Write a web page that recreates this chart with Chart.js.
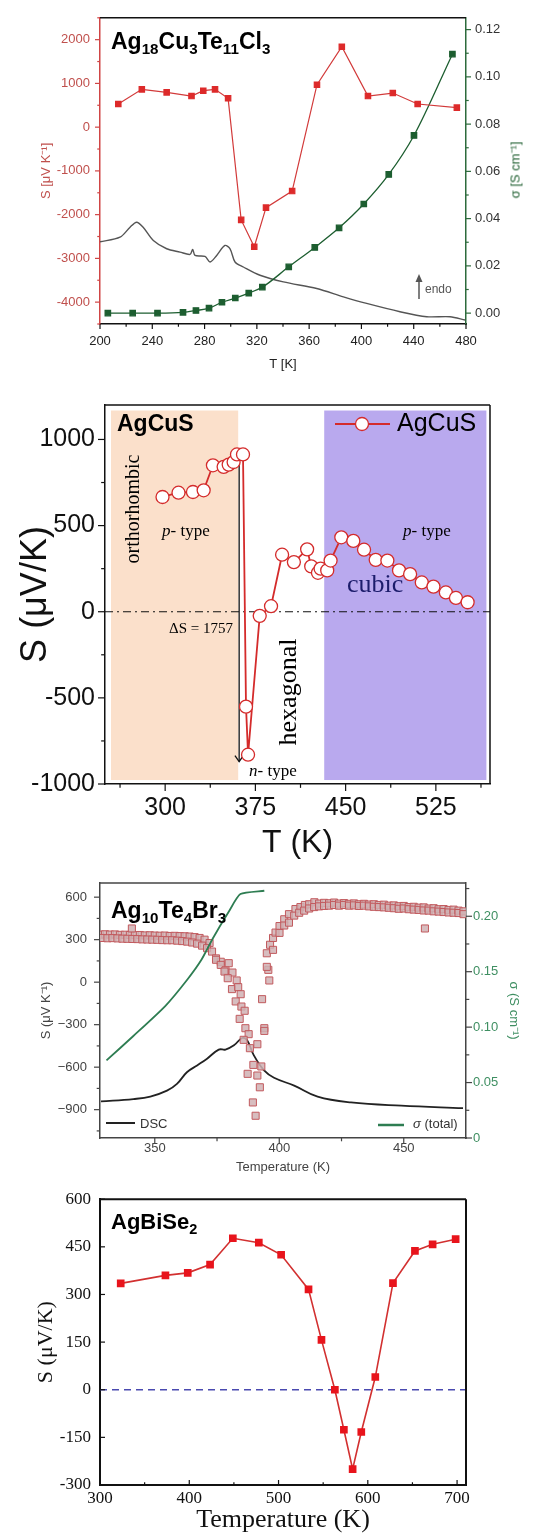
<!DOCTYPE html>
<html>
<head>
<meta charset="utf-8">
<script src="https://cdn.jsdelivr.net/npm/chart.js@4.4.0/dist/chart.umd.min.js"></script>
<style>
  body { margin: 0; background: #fff; }
  #wrap { position: relative; width: 550px; height: 1534px; overflow: hidden; }
  canvas { position: absolute; left: 0; }
  .t { position: absolute; white-space: nowrap; line-height: 1; color: #000; }
  .sans { font-family: 'Liberation Sans', Arial, sans-serif; }
  .serif { font-family: 'Liberation Serif', 'Times New Roman', serif; }
  .rot { transform: translate(-50%, -50%) rotate(-90deg); }
  sub { font-size: 0.66em; vertical-align: -0.32em; line-height: 0; }
</style>
</head>
<body>
<div id="wrap">
  <canvas id="c1" width="550" height="375" style="top:0px"></canvas>
  <canvas id="c2" width="550" height="490" style="top:380px"></canvas>
  <canvas id="c3" width="550" height="320" style="top:860px"></canvas>
  <canvas id="c4" width="550" height="354" style="top:1180px"></canvas>

  <!-- panel 1 -->
  <div class="t sans" style="left:111px;top:30px;font-size:23px;font-weight:bold">Ag<sub>18</sub>Cu<sub>3</sub>Te<sub>11</sub>Cl<sub>3</sub></div>
  <div class="t sans" style="left:425px;top:283px;font-size:12px;color:#555">endo</div>
  <div class="t sans rot" style="left:515px;top:170px;font-size:13px;color:#1f5f30">σ [S cm⁻¹]</div>

  <!-- panel 2 -->
  <div class="t sans" style="left:117px;top:412px;font-size:23px;font-weight:bold">AgCuS</div>
  <div class="t sans" style="left:397px;top:410px;font-size:25px">AgCuS</div>
  <div class="t serif rot" style="left:132px;top:509px;font-size:20px">orthorhombic</div>
  <div class="t serif" style="left:162px;top:522px;font-size:17px"><i>p</i>- type</div>
  <div class="t serif" style="left:403px;top:522px;font-size:17px"><i>p</i>- type</div>
  <div class="t serif" style="left:347px;top:571px;font-size:26px;color:#1c1c6b">cubic</div>
  <div class="t serif rot" style="left:288px;top:692px;font-size:26px">hexagonal</div>
  <div class="t serif" style="left:169px;top:621px;font-size:15px">ΔS = 1757</div>
  <div class="t serif" style="left:249px;top:762px;font-size:17px"><i>n</i>- type</div>

  <!-- panel 3 -->
  <div class="t sans" style="left:111px;top:899px;font-size:23px;font-weight:bold">Ag<sub>10</sub>Te<sub>4</sub>Br<sub>3</sub></div>
  <div class="t sans" style="left:140px;top:1117px;font-size:13px;color:#333">DSC</div>
  <div class="t sans" style="left:413px;top:1117px;font-size:13px;color:#333"><i>σ</i> (total)</div>

  <!-- panel 4 -->
  <div class="t sans" style="left:111px;top:1211px;font-size:22px;font-weight:bold">AgBiSe<sub>2</sub></div>
</div>

<script>
// ---------- panel 1: Ag18Cu3Te11Cl3 ----------
var cuT = [214, 232, 251, 270, 279, 288, 298, 308, 318, 327, 347, 366, 385, 405, 424, 443, 473];
var cuS = [530, 864, 795, 711, 834, 864, 659, -2120, -2735, -1840, -1461, 970, 1840, 711, 780, 530, 447];
var cuSigT = [206, 225, 244, 263.5, 273.4, 283.4, 293.3, 303.5, 313.8, 324.2, 344.4, 364.3, 382.9, 401.8, 420.9, 440.2, 469.6];
var cuSig = [0, 0, 0, 0.0003, 0.0011, 0.0021, 0.0046, 0.0064, 0.0085, 0.011, 0.0196, 0.0278, 0.0361, 0.0462, 0.0587, 0.0752, 0.1096];
var cuDscT = [200, 215.3, 223, 228, 233, 240.8, 251, 261.2, 268.9, 270.9, 272.7, 280.3, 284.2, 289.3, 295.6, 299.5, 303.3, 309.7, 322.4, 340.3, 365.8, 386.2, 404, 429.5, 450, 467.8, 479.3];
var cuDsc = [-2621, -2515, -2288, -2174, -2288, -2591, -2780, -2856, -2909, -2795, -2932, -2955, -3083, -2932, -2705, -2780, -3083, -3197, -3386, -3538, -3689, -3879, -4030, -4220, -4334, -4334, -4409];
var p1Tticks = [200, 240, 280, 320, 360, 400, 440, 480];
var p1Tminor = [220, 260, 300, 340, 380, 420, 460];
var p1Sticks = [-4000, -3000, -2000, -1000, 0, 1000, 2000];
var p1Sminor = [-4500, -3500, -2500, -1500, -500, 500, 1500, 2500];
var p1SigTicks = [0, 0.02, 0.04, 0.06, 0.08, 0.10, 0.12];
var p1SigMinor = [0.01, 0.03, 0.05, 0.07, 0.09, 0.11];

// ---------- panel 2: AgCuS ----------
var agcusT = [297.8, 311.1, 323.1, 332, 339.7, 348.6, 352.8, 356.9, 359.7, 364.7, 367.2, 368.9, 378.6, 388,
  397.2, 407, 418, 421.4, 427, 429.2, 434.7, 437.5, 446.4, 456.4, 465.3, 475, 484.7, 494.4, 503.6, 513.3, 523, 533.3, 541.7, 551.4];
var agcusS = [666, 691, 695, 705, 850, 841, 854, 869, 913, 913, -551, -830, -24, 32,
  331, 288, 362, 263, 226, 250, 240, 297, 432, 411, 360, 301, 297, 240, 218, 170, 146, 112, 80, 55];
var orthoRange = [255, 360.7];
var cubicRange = [432.2, 567];
var bandS = [-977, 1168];
var deltaArrow = [361.5, -870, 915];
var p2Tticks = [300, 375, 450, 525];
var p2Tminor = [262.5, 337.5, 412.5, 487.5, 562.5];
var p2Sticks = [-1000, -500, 0, 500, 1000];
var p2Sminor = [-750, -250, 250, 750];

// ---------- panel 3: Ag10Te4Br3 ----------
var brT = [328, 330, 332, 334, 336, 338, 340, 342, 344, 346, 348, 350, 352, 354, 356, 358, 360, 362, 364, 366, 368, 370, 372,
  329, 331, 333, 335, 337, 339, 341, 343, 345, 347, 349, 351, 353, 355, 357, 359, 361, 363, 365, 367, 369, 371, 373, 340.8,
  374.6, 376.5, 374.6, 376.5, 378.4, 379.7, 378, 381.2, 379.3, 382.9, 381, 383.5, 384.5, 382.5, 384.8, 386.1, 384.1, 386.4,
  387.7, 385.7, 388.2, 391.2, 389.6, 392.8, 387.3, 391.2, 392.2, 389.4, 390.5, 393.1, 394, 394, 395.6, 396,
  395, 395, 396.3, 397.5, 397.5, 398.5, 400.1, 400.1, 402, 402, 403.9, 403.9, 406.5, 406, 408.5, 408, 410.3, 410, 412, 412,
  414.1, 414, 416, 416, 418, 418, 420, 420, 422, 422, 424, 424, 426, 426, 428, 428, 430, 430, 432, 432, 434, 434, 436, 436,
  438, 438, 440, 440, 442, 442, 444, 444, 446, 446, 448, 448, 450, 450, 452, 452, 454, 454, 456, 456, 458.5, 458, 458,
  460, 460, 462, 462, 464, 464, 466, 466, 468, 468, 470, 470, 472, 472, 474, 474];
var brS = [335, 338, 336, 337, 334, 335, 333, 332, 333, 330, 331, 329, 328, 329, 326, 327, 325, 324, 322, 318, 312, 300, 276,
  312, 310, 311, 309, 307, 306, 305, 304, 302, 301, 300, 299, 297, 296, 296, 293, 290, 286, 280, 272, 258, 240, 216, 379,
  168, 144, 158, 122, 84, 134, 75, 68, 28, 12, -49, -35, -85, -136, -172, -202, -259, -325,
  -367, -407, -466, -438, -584, -595, -647, -659, -742, -849, -943, -120, -325, -344, 87, 12,
  108, 204, 264, 228, 312, 350, 396, 348, 444, 400, 480, 420, 516, 470, 530, 490, 545, 505, 550, 520,
  564, 530, 555, 535, 560, 538, 557, 540, 562, 545, 555, 540, 558, 545, 553, 540, 556, 542, 550, 538, 553, 540, 548, 535,
  550, 532, 545, 530, 547, 528, 540, 525, 542, 522, 536, 518, 538, 520, 530, 515, 532, 512, 526, 510, 379, 528, 506,
  520, 505, 522, 500, 515, 498, 516, 495, 510, 492, 512, 490, 505, 488, 500, 480];
var brSigT = [330.6, 341.4, 354.2, 363.1, 368.8, 373.3, 379.7, 384.4, 394];
var brSig = [0.070, 0.092, 0.119, 0.143, 0.161, 0.180, 0.204, 0.220, 0.223];
var brDscT = [328.4, 341.4, 348.2, 354.9, 358.9, 362.9, 367, 371, 375.7, 378.4, 381.8, 385.1, 387.1, 389.8, 393.9, 397.9, 406, 415.4, 428.8, 449, 473.8];
var brDsc = [-842, -825, -808, -766, -718, -636, -588, -540, -476, -476, -446, -394, -410, -517, -623, -675, -730, -808, -849, -872, -889];
var p3Tticks = [350, 400, 450];
var p3Tminor = [375, 425];
var p3Sticks = [-900, -600, -300, 0, 300, 600];
var p3Sminor = [-1050, -750, -450, -150, 150, 450];
var p3SigTicks = [0, 0.05, 0.10, 0.15, 0.20];
var p3SigMinor = [0.025, 0.075, 0.125, 0.175, 0.225];

// ---------- panel 4: AgBiSe2 ----------
var biT = [323.2, 373.3, 398.3, 423.3, 448.8, 477.9, 502.9, 533.6, 548.1, 563.1, 573.2, 583, 592.7, 608.4, 628.2, 652.8, 672.6, 698.4];
var biS = [335, 360, 368, 394, 477, 463, 425, 316, 157, 0, -126, -250, -133, 40, 336, 437, 458, 474];
var p4Tticks = [300, 400, 500, 600, 700];
var p4Tminor = [350, 450, 550, 650];
var p4Sticks = [-300, -150, 0, 150, 300, 450, 600];

var SANS = "'Liberation Sans', Arial, sans-serif";
var SERIF = "'Liberation Serif', 'Times New Roman', serif";

function pts(xs, ys) {
    return xs.map(function (x, i) { return {x: x, y: ys[i]}; });
}

function plain(v) { return String(v); }

function axis(o) {
    return {
        type: 'linear',
        position: o.pos,
        min: o.min,
        max: o.max,
        afterBuildTicks: function (s) {
            s.ticks = o.ticks.map(function (v) { return {value: v}; });
        },
        afterFit: function (s) {
            if (s.isHorizontal()) s.height = o.size; else s.width = o.size;
        },
        grid: {display: false, drawTicks: false},
        border: {display: true, color: o.line, width: o.lineWidth || 1.5},
        ticks: {
            autoSkip: false, maxRotation: 0, padding: o.pad, color: o.color,
            font: o.font, callback: o.fmt || plain
        },
        title: o.title ? {display: true, text: o.title, color: o.titleColor || o.color, font: o.titleFont, padding: o.titlePad}
                       : {display: false}
    };
}

// frame lines that no axis covers, and tick marks drawn from each scale
function frameAndTicks(spec) {
    return {
        id: 'frameAndTicks',
        afterDatasetsDraw: function (chart) {
            var ctx = chart.ctx, a = chart.chartArea;
            ctx.save();
            ctx.lineWidth = spec.width;
            ctx.strokeStyle = spec.color;
            spec.sides.forEach(function (side) {
                ctx.beginPath();
                if (side == 'top') { ctx.moveTo(a.left, a.top); ctx.lineTo(a.right, a.top); }
                if (side == 'right') { ctx.moveTo(a.right, a.top); ctx.lineTo(a.right, a.bottom); }
                ctx.stroke();
            });
            Object.keys(spec.ticks).forEach(function (id) {
                var t = spec.ticks[id], s = chart.scales[id];
                var sign = t.inward ? -1 : 1;
                ctx.strokeStyle = t.color;
                ctx.lineWidth = 1.2;
                [[t.major, t.len], [t.minor || [], t.len * 0.55]].forEach(function (g) {
                    g[0].forEach(function (v) {
                        var p = s.getPixelForValue(v), L = g[1] * sign;
                        ctx.beginPath();
                        if (s.position == 'bottom') { ctx.moveTo(p, a.bottom); ctx.lineTo(p, a.bottom + L); }
                        else if (s.position == 'left') { ctx.moveTo(a.left, p); ctx.lineTo(a.left - L, p); }
                        else { ctx.moveTo(a.right, p); ctx.lineTo(a.right + L, p); }
                        ctx.stroke();
                    });
                });
            });
            ctx.restore();
        }
    };
}

function chevron(ctx, x, y, dir, size) {
    ctx.beginPath();
    ctx.moveTo(x - size * 0.7, y + dir * size);
    ctx.lineTo(x, y);
    ctx.lineTo(x + size * 0.7, y + dir * size);
    ctx.stroke();
}

var base = {
    responsive: false,
    animation: false,
    events: [],
    plugins: {legend: {display: false}, tooltip: {enabled: false}}
};

function opts(extra) {
    return Object.assign({}, base, extra);
}

// ================= panel 1 =================
new Chart(document.getElementById('c1').getContext('2d'), {
    type: 'scatter',
    data: {
        datasets: [{
            data: pts(cuT, cuS), yAxisID: 'yS', showLine: true,
            borderColor: '#d23a3a', borderWidth: 1.2,
            pointStyle: 'rect', pointRadius: 3.8, backgroundColor: '#dd2a2a', pointBorderColor: '#dd2a2a'
        }, {
            data: pts(cuSigT, cuSig), yAxisID: 'ySig', showLine: true, cubicInterpolationMode: 'monotone',
            borderColor: '#1d5e30', borderWidth: 1.3,
            pointStyle: 'rect', pointRadius: 3.8, backgroundColor: '#1d5e30', pointBorderColor: '#1d5e30'
        }, {
            data: pts(cuDscT, cuDsc), yAxisID: 'yS', showLine: true, tension: 0.3,
            borderColor: '#555', borderWidth: 1.4, pointRadius: 0
        }]
    },
    options: opts({
        layout: {padding: {top: 15, right: 0, left: 0, bottom: 0}},
        scales: {
            x: axis({pos: 'bottom', min: 200, max: 480, ticks: p1Tticks, size: 51, pad: 10, color: '#222',
                line: '#111', font: {family: SANS, size: 13},
                title: 'T [K]', titleFont: {family: SANS, size: 13}, titlePad: {top: 0, bottom: 3}}),
            yS: axis({pos: 'left', min: -4500, max: 2500, ticks: p1Sticks, size: 100, pad: 10, color: '#c0504d',
                line: '#d04545', font: {family: SANS, size: 13},
                title: 'S [μV K⁻¹]', titleFont: {family: SANS, size: 13}, titlePad: {top: 39, bottom: 0}}),
            ySig: axis({pos: 'right', min: -0.0046, max: 0.125, ticks: p1SigTicks, size: 84, pad: 9, color: '#333',
                line: '#2d6b3c', font: {family: SANS, size: 13},
                fmt: function (v) { return v.toFixed(2); }})
        }
    }),
    plugins: [frameAndTicks({
        width: 1.5, color: '#111', sides: ['top'],
        ticks: {
            x: {major: p1Tticks, minor: p1Tminor, len: 5, color: '#111'},
            yS: {major: p1Sticks, minor: p1Sminor, len: 5, color: '#d04545'},
            ySig: {major: p1SigTicks, minor: p1SigMinor, len: 5, color: '#2d6b3c'}
        }
    }), {
        id: 'endoArrow',
        afterDraw: function (chart) {
            var ctx = chart.ctx;
            ctx.save();
            ctx.strokeStyle = '#555';
            ctx.fillStyle = '#555';
            ctx.lineWidth = 1.5;
            ctx.beginPath(); ctx.moveTo(419, 299); ctx.lineTo(419, 280); ctx.stroke();
            ctx.beginPath(); ctx.moveTo(419, 274); ctx.lineTo(415.5, 282); ctx.lineTo(422.5, 282); ctx.closePath(); ctx.fill();
            ctx.restore();
        }
    }]
});

// ================= panel 2 =================
new Chart(document.getElementById('c2').getContext('2d'), {
    type: 'scatter',
    data: {
        datasets: [{
            data: pts(agcusT, agcusS), showLine: true,
            borderColor: '#d42b2b', borderWidth: 1.8,
            pointStyle: 'circle', pointRadius: 6.5, pointBorderWidth: 1.3,
            backgroundColor: '#fff', pointBackgroundColor: '#fff', pointBorderColor: '#d42b2b'
        }, {
            data: pts([250, 570], [0, 0]), showLine: true, pointRadius: 0,
            borderColor: '#111', borderWidth: 1.2, borderDash: [8, 4, 2, 4]
        }]
    },
    options: opts({
        layout: {padding: {top: 18, right: 60, left: 0, bottom: 0}},
        scales: {
            x: axis({pos: 'bottom', min: 250, max: 570, ticks: p2Tticks, size: 86, pad: 9, color: '#111',
                line: '#111', font: {family: SANS, size: 25},
                title: 'T (K)', titleFont: {family: SANS, size: 32}, titlePad: {top: 0, bottom: 8}}),
            y: axis({pos: 'left', min: -1000, max: 1200, ticks: p2Sticks, size: 105, pad: 10, color: '#111',
                line: '#111', font: {family: SANS, size: 25},
                title: 'S (μV/K)', titleFont: {family: SANS, size: 36}, titlePad: {top: 14, bottom: 0}})
        }
    }),
    plugins: [{
        id: 'phaseBands',
        beforeDatasetsDraw: function (chart) {
            var ctx = chart.ctx, xs = chart.scales.x, ys = chart.scales.y;
            var yt = ys.getPixelForValue(bandS[1]), yb = ys.getPixelForValue(bandS[0]);
            ctx.save();
            [[orthoRange, '#fbe0cb'], [cubicRange, '#b9a9ee']].forEach(function (b) {
                var x0 = xs.getPixelForValue(b[0][0]), x1 = xs.getPixelForValue(b[0][1]);
                ctx.fillStyle = b[1];
                ctx.fillRect(x0, yt, x1 - x0, yb - yt);
            });
            // delta S arrow
            var ax = xs.getPixelForValue(deltaArrow[0]);
            var y0 = ys.getPixelForValue(deltaArrow[1]), y1 = ys.getPixelForValue(deltaArrow[2]);
            ctx.strokeStyle = '#111';
            ctx.lineWidth = 1.3;
            ctx.beginPath(); ctx.moveTo(ax, y0); ctx.lineTo(ax, y1); ctx.stroke();
            chevron(ctx, ax, y1, 1, 6);
            chevron(ctx, ax, y0, -1, 6);
            ctx.restore();
        }
    }, frameAndTicks({
        width: 1.5, color: '#111', sides: ['top', 'right'],
        ticks: {
            x: {major: p2Tticks, minor: p2Tminor, len: 7, color: '#111'},
            y: {major: p2Sticks, minor: p2Sminor, len: 7, color: '#111'}
        }
    }), {
        id: 'legendMark',
        afterDraw: function (chart) {
            var ctx = chart.ctx;
            ctx.save();
            ctx.strokeStyle = '#d42b2b';
            ctx.lineWidth = 1.8;
            ctx.beginPath(); ctx.moveTo(335, 44); ctx.lineTo(390, 44); ctx.stroke();
            ctx.fillStyle = '#fff';
            ctx.lineWidth = 1.3;
            ctx.beginPath(); ctx.arc(362, 44, 6.5, 0, Math.PI * 2); ctx.fill(); ctx.stroke();
            ctx.restore();
        }
    }]
});

// ================= panel 3 =================
function minusFmt(v) { return v < 0 ? '\u2212' + Math.abs(v) : String(v); }

new Chart(document.getElementById('c3').getContext('2d'), {
    type: 'scatter',
    data: {
        datasets: [{
            data: pts(brSigT, brSig), yAxisID: 'ySig', showLine: true, tension: 0.2,
            borderColor: '#2e7d52', borderWidth: 1.8, pointRadius: 0
        }, {
            data: pts(brT, brS), yAxisID: 'yS', showLine: false,
            pointStyle: 'rect', pointRadius: 5, pointBorderWidth: 1,
            backgroundColor: 'rgba(208,178,180,0.85)', pointBorderColor: '#c25a5e'
        }, {
            data: pts(brDscT, brDsc), yAxisID: 'yS', showLine: true, tension: 0.4,
            borderColor: '#222', borderWidth: 1.8, pointRadius: 0
        }]
    },
    options: opts({
        layout: {padding: {top: 23, right: 0, left: 0, bottom: 0}},
        scales: {
            x: axis({pos: 'bottom', min: 328, max: 475, ticks: p3Tticks, size: 42, pad: 3, color: '#444',
                line: '#444', font: {family: SANS, size: 13},
                title: 'Temperature (K)', titleFont: {family: SANS, size: 13}, titlePad: {top: 0, bottom: 4.5}}),
            yS: axis({pos: 'left', min: -1100, max: 700, ticks: p3Sticks, size: 100, pad: 13, color: '#444',
                line: '#444', font: {family: SANS, size: 13}, fmt: minusFmt,
                title: 'S (μV K⁻¹)', titleFont: {family: SANS, size: 13}, titlePad: {top: 39, bottom: 0}}),
            ySig: axis({pos: 'right', min: 0, max: 0.23, ticks: p3SigTicks, size: 84, pad: 7, color: '#3f8f62',
                line: '#444', font: {family: SANS, size: 13},
                fmt: function (v) { return v === 0 ? '0' : v.toFixed(2); },
                title: 'σ (S cm⁻¹)', titleFont: {family: SANS, size: 13}, titlePad: {top: 29, bottom: 0}})
        }
    }),
    plugins: [frameAndTicks({
        width: 1.5, color: '#444', sides: ['top'],
        ticks: {
            x: {major: p3Tticks, minor: p3Tminor, len: 6, color: '#444'},
            yS: {major: p3Sticks, minor: p3Sminor, len: 6, color: '#444'},
            ySig: {major: p3SigTicks, minor: p3SigMinor, len: 6, color: '#444'}
        }
    }), {
        id: 'legendLines',
        afterDraw: function (chart) {
            var ctx = chart.ctx;
            ctx.save();
            ctx.lineWidth = 2;
            ctx.strokeStyle = '#222';
            ctx.beginPath(); ctx.moveTo(106, 263); ctx.lineTo(135, 263); ctx.stroke();
            ctx.lineWidth = 2.5;
            ctx.strokeStyle = '#2e7d52';
            ctx.beginPath(); ctx.moveTo(378, 265); ctx.lineTo(404, 265); ctx.stroke();
            ctx.restore();
        }
    }]
});

// ================= panel 4 =================
new Chart(document.getElementById('c4').getContext('2d'), {
    type: 'scatter',
    data: {
        datasets: [{
            data: pts(biT, biS), showLine: true,
            borderColor: '#d23030', borderWidth: 1.6,
            pointStyle: 'rect', pointRadius: 4.3, backgroundColor: '#e8141c', pointBorderColor: '#e8141c'
        }, {
            data: pts([300, 710], [0, 0]), showLine: true, pointRadius: 0,
            borderColor: '#4a4ab0', borderWidth: 1.5, borderDash: [7, 5]
        }]
    },
    options: opts({
        layout: {padding: {top: 18, right: 84, left: 0, bottom: 0}},
        scales: {
            x: axis({pos: 'bottom', min: 300, max: 710, ticks: p4Tticks, size: 49, pad: 3, color: '#111',
                line: '#111', lineWidth: 2, font: {family: SERIF, size: 17},
                title: 'Temperature (K)', titleFont: {family: SERIF, size: 26, lineHeight: 1}, titlePad: {top: 0, bottom: 1}}),
            y: axis({pos: 'left', min: -300, max: 600, ticks: p4Sticks, size: 100, pad: 9, color: '#111',
                line: '#111', lineWidth: 2, font: {family: SERIF, size: 17},
                title: 'S (μV/K)', titleFont: {family: SERIF, size: 22}, titlePad: {top: 33, bottom: 0}})
        }
    }),
    plugins: [frameAndTicks({
        width: 2, color: '#111', sides: ['top', 'right'],
        ticks: {
            x: {major: p4Tticks, minor: p4Tminor, len: 5, color: '#111', inward: true},
            y: {major: p4Sticks, len: 5, color: '#111', inward: true}
        }
    })]
});
</script>
</body>
</html>
